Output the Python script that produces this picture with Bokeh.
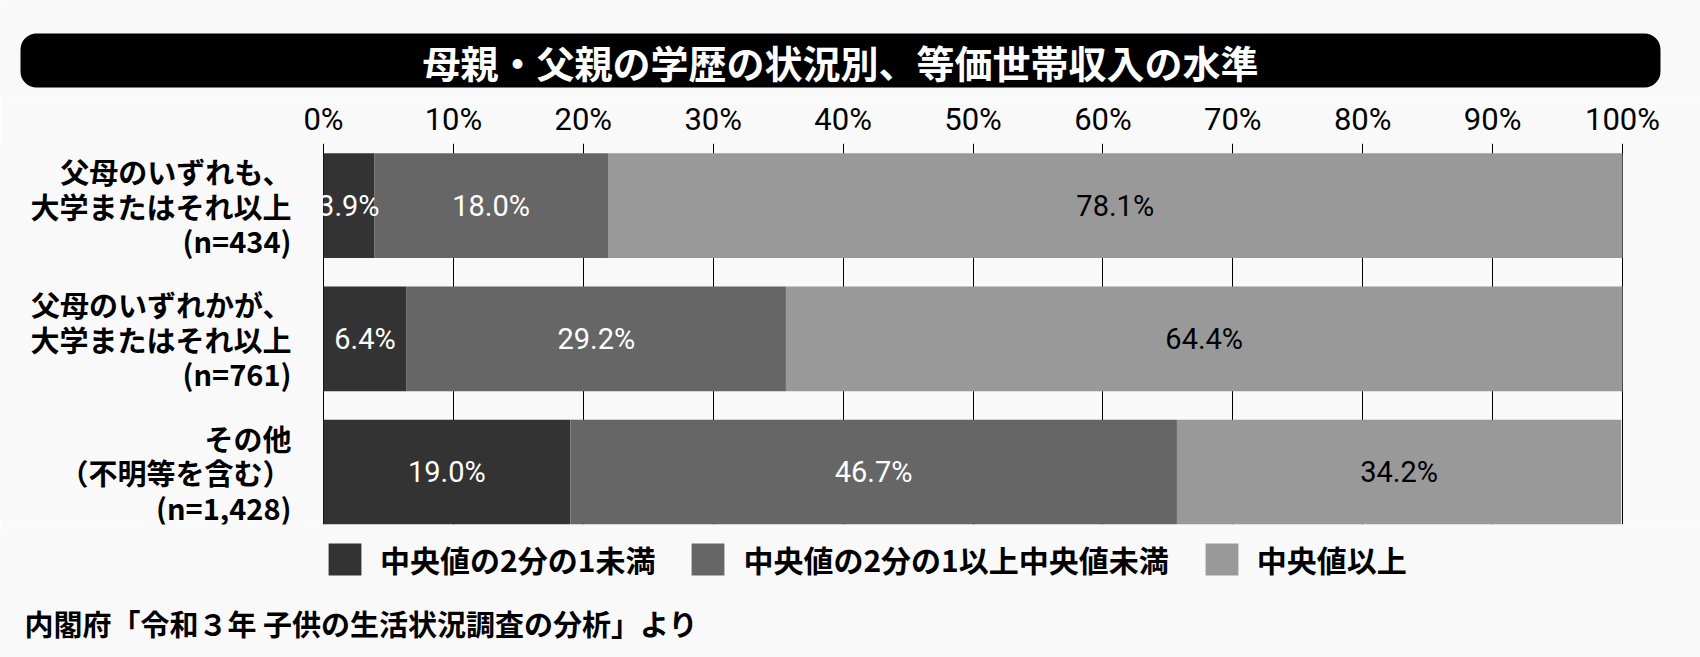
import numpy as np
from bokeh.plotting import figure
from bokeh.layouts import column
from bokeh.models import (Range1d, FixedTicker, ColumnDataSource, Legend, LegendItem,
                          CustomJSTickFormatter)
from bokeh.core.properties import value
from bokeh.embed import file_html
from bokeh.resources import INLINE

# ---- data ----
chart_title = "母親・父親の学歴の状況別、等価世帯収入の水準"
categories = [
    "父母のいずれも、\n大学またはそれ以上\n(n=434)",
    "父母のいずれかが、\n大学またはそれ以上\n(n=761)",
    "その他\n（不明等を含む）\n(n=1,428)",
]
series_names = ["中央値の2分の1未満", "中央値の2分の1以上中央値未満", "中央値以上"]
below_half = [3.9, 6.4, 19.0]
half_to_median = [18.0, 29.2, 46.7]
above_median = [78.1, 64.4, 34.2]
x_ticks = [0, 10, 20, 30, 40, 50, 60, 70, 80, 90, 100]
source_note = "内閣府「令和３年 子供の生活状況調査の分析」より"

colors = ["#333333", "#666666", "#999999"]
text_colors = ["white", "white", "black"]
BG = "#f9f9f9"
JP = "Noto Sans CJK JP"
NUM = "Roboto"
W = 1700

# pixel layout of the bar area inside the page
PLOT_LEFT, PLOT_RIGHT = 323, 1622
LABEL_GAP = 32
px_per_unit = (PLOT_RIGHT - PLOT_LEFT) / (x_ticks[-1] - x_ticks[0])
x_start = x_ticks[0] - PLOT_LEFT / px_per_unit
x_end = x_ticks[-1] + (W - PLOT_RIGHT) / px_per_unit


def blank(height):
    f = figure(width=W, height=height, output_backend="svg", toolbar_location=None,
               x_range=Range1d(0, W), y_range=Range1d(height, 0),
               x_axis_location=None, y_axis_location=None,
               min_border=0, min_border_left=0, min_border_right=0,
               min_border_top=0, min_border_bottom=0)
    f.grid.visible = False
    f.background_fill_color = BG
    f.border_fill_color = BG
    f.outline_line_color = None
    return f


# ---- title strip ----
TH = 97
pt = blank(TH)
pt.quad(left=[20], right=[1660], top=[33], bottom=[87], fill_color="black",
        line_color=None, border_radius=16)
pt.text(x=[840], y=[61], text=[chart_title], text_align="center", text_baseline="middle",
        text_color="white", text_font=value(JP), text_font_style="bold",
        text_font_size="38px")

# ---- main chart ----
TOP_B, BOT_B = 44, 4
MH = TOP_B + 383 + BOT_B
rows = list(range(len(categories)))
series = [below_half, half_to_median, above_median]
keys = ["s0", "s1", "s2"]
data = {"y": rows}
for k, s in zip(keys, series):
    data[k] = s
src = ColumnDataSource(data)

p = figure(width=W, height=MH, output_backend="svg", toolbar_location=None,
           x_range=Range1d(x_start, x_end), y_range=Range1d(2.393, -0.466),
           x_axis_location="above", y_axis_location=None,
           min_border_left=0, min_border_right=0, min_border_top=TOP_B, min_border_bottom=BOT_B)
p.background_fill_color = BG
p.border_fill_color = BG
p.outline_line_color = None

renderers = p.hbar_stack(keys, y="y", height=0.787, color=colors, line_color=None, source=src)

left = [0.0] * len(rows)
for s, tc in zip(series, text_colors):
    centers = [l + v / 2 for l, v in zip(left, s)]
    labels = [f"{v:.1f}%" for v in s]
    p.text(x=centers, y=rows, text=labels, text_align="center", text_baseline="middle",
           text_color=tc, text_font=value(NUM), text_font_size="29px")
    left = [l + v for l, v in zip(left, s)]

# category labels, right-aligned just left of 0%
p.text(x=[x_ticks[0] - LABEL_GAP / px_per_unit] * len(rows), y=rows, text=categories,
       text_align="right", text_baseline="middle", text_color="black",
       text_font=value(JP), text_font_style="bold", text_font_size="29px",
       text_line_height=0.82)

p.ygrid.grid_line_color = None
p.xgrid.ticker = FixedTicker(ticks=x_ticks)
p.xgrid.grid_line_color = "black"
p.xgrid.grid_line_width = 1

xa = p.xaxis[0]
xa.ticker = FixedTicker(ticks=x_ticks)
xa.formatter = CustomJSTickFormatter(code="return tick + '%';")
xa.axis_line_color = None
xa.major_tick_line_color = None
xa.minor_tick_line_color = None
xa.major_label_text_font = NUM
xa.major_label_text_color = "black"
xa.major_label_text_font_size = "31px"
xa.major_label_standoff = 0

# ---- bottom strip: legend + source ----
BH = 657 - TH - MH
pb = blank(BH)
# legend keys: renderers holding no visible point (NaN), only their styles are shown
keys_r = [pb.rect(x=np.array([np.nan]), y=np.array([np.nan]), width=1, height=1,
                  fill_color=c, line_color=None) for c in colors]
legend = Legend(items=[LegendItem(label=n, renderers=[r]) for n, r in zip(series_names, keys_r)],
                orientation="horizontal", location=(PLOT_LEFT + 1, BH - 53),
                glyph_width=41, glyph_height=40, label_standoff=15, spacing=32,
                padding=0, margin=0, background_fill_alpha=0, border_line_color=None,
                label_text_font=JP, label_text_font_style="bold", label_text_font_size="30px",
                label_text_color="black")
pb.add_layout(legend, "center")
pb.text(x=[24], y=[BH - 35], text=[source_note], text_align="left", text_baseline="middle",
        text_color="black", text_font=value(JP), text_font_style="bold",
        text_font_size="29px")

layout = column(pt, p, pb, spacing=0)
open("out.html", "w").write(file_html(layout, INLINE))
